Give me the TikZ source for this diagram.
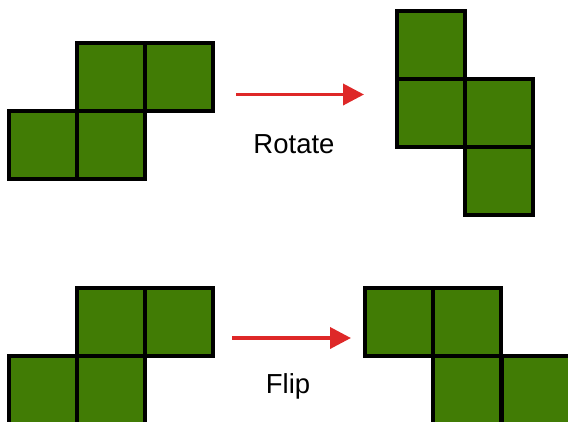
\documentclass[tikz,border=0pt]{standalone}
\usepackage{fontspec}
\setmainfont{Liberation Sans}
\usetikzlibrary{arrows.meta}
\definecolor{tgreen}{RGB}{65,124,5}
\definecolor{tred}{RGB}{222,40,40}
\begin{document}
\begin{tikzpicture}[x=1pt,y=-1pt,
  cell/.style={draw=black,fill=tgreen,line width=4pt,minimum size=68pt,inner sep=0pt,outer sep=0pt},
  redarrow/.style={draw=tred,line width=3.8pt,-{Triangle[length=21pt,width=21pt]}},
  lbl/.style={anchor=base,inner sep=0pt,font=\fontsize{27.5}{30}\selectfont}]
\useasboundingbox (0,0) rectangle (568,421);
% top-left S piece
\node[cell] (a1) at (111,77) {};
\node[cell] (a2) at (179,77) {};
\node[cell] (a3) at (43,145) {};
\node[cell] (a4) at (111,145) {};
% top-right rotated piece
\node[cell] (b1) at (431,45) {};
\node[cell] (b2) at (431,113) {};
\node[cell] (b3) at (499,113) {};
\node[cell] (b4) at (499,181) {};
% bottom-left S piece
\node[cell] (c1) at (111,322) {};
\node[cell] (c2) at (179,322) {};
\node[cell] (c3) at (43,390) {};
\node[cell] (c4) at (111,390) {};
% bottom-right flipped piece
\node[cell] (d1) at (399,321.5) {};
\node[cell] (d2) at (467.3,321.5) {};
\node[cell] (d3) at (467.3,389.5) {};
\node[cell] (d4) at (536,389.5) {};
% arrows
\coordinate (r1) at (236,94.5);
\coordinate (r2) at (364,94.5);
\draw[redarrow] (r1) -- (r2);
\node[lbl] (rot) at (294,153) {Rotate};
\coordinate (f1) at (232,338);
\coordinate (f2) at (351,338);
\draw[redarrow] (f1) -- (f2);
\node[lbl] (flip) at (288,393) {Flip};
\end{tikzpicture}
\end{document}
